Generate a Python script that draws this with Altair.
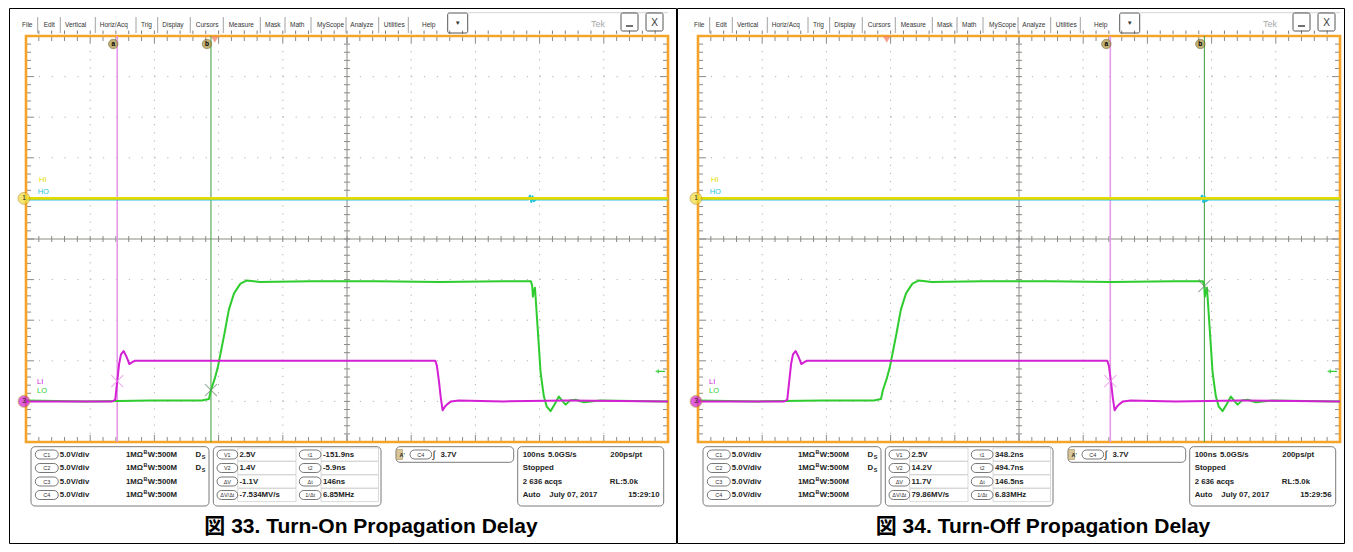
import altair as alt
import pandas as pd

# ---------------- scope settings ----------------
V_PER_DIV = 5.0          # all channels 5.0 V/div
T_LEFT = -294.0          # time at left edge of graticule (ns), 100 ns/div
PX_NS = 0.642            # pixels per ns
PX_DIV = 40.6            # pixels per vertical division
POS_C1 = 1.0             # channel positions (div)
POS_C2 = 0.97
POS_C34 = -4.0
TRIG_LEVEL_V = 3.7

# ---------------- waveform values ----------------
C1_T = [-294, 706]
C1_V = [0.0, 0.0]

C2_T = [-294, 488, 491, 493, 495, 497, 500, 706]
C2_V = [0.0, 0.0, 0.5, -0.3, 0.4, -0.2, 0.0, 0.0]

C3_T = [-294, -200, -160, -155, -152, -149, -146, -142, -138, -133, -129, -125, -115,
        0, 100, 200, 300, 343.5, 346, 349.5, 352, 355, 359, 363, 368, 380, 450, 550, 706]
C3_V = [0.0, 0.0, 0.0, 0.2, 2.4, 4.6, 5.8, 6.2, 5.6, 4.6, 4.8, 5.0, 5.0,
        5.0, 5.0, 5.0, 5.0, 5.0, 4.4, 2.3, 0.5, -1.1, -0.6, -0.3, 0.0, 0.1, 0.0, 0.1, 0.0]

C4_T = [-294, -200, -100, -20, -9, -5.9, 0, 5, 10, 15, 22, 30, 40, 50, 70, 150, 250, 350,
        450, 492.5, 494.5, 495.6, 497, 498.8, 503, 507.6, 512.7, 517, 523, 529, 536, 541,
        546.6, 553, 562, 575, 600, 706]
C4_V = [0.1, 0.0, 0.1, 0.1, 0.3, 1.4, 2.8, 4.3, 6.3, 8.3, 11.3, 13.3, 14.5, 14.9, 14.7, 14.8,
        14.8, 14.7, 14.8, 14.8, 14.2, 12.9, 13.6, 14.0, 9.0, 3.5, 0.6, -0.6, -1.2, -0.4, 0.6,
        0.1, -0.4, 0.1, 0.2, -0.1, 0.1, 0.0]

# ---------------- per-figure values ----------------
CAPTIONS = ["図 33. Turn-On Propagation Delay", "図 34. Turn-Off Propagation Delay"]
CURSOR_T1 = [-151.9, 348.2]
CURSOR_T2 = [-5.9, 494.7]
CURSOR_V1 = [2.5, 2.5]
CURSOR_V2 = [1.4, 14.2]
V_TEXT = [["2.5V", "1.4V", "-1.1V", "-7.534MV/s"], ["2.5V", "14.2V", "11.7V", "79.86MV/s"]]
T_TEXT = [["-151.9ns", "-5.9ns", "146ns", "6.85MHz"], ["348.2ns", "494.7ns", "146.5ns", "6.83MHz"]]
CLOCK = ["15:29:10", "15:29:56"]
PANEL_SHIFT = [0, 4]

V_LABELS = ["V1", "V2", "ΔV", "ΔV/Δt"]
T_LABELS = ["t1", "t2", "Δt", "1/Δt"]
CH_LABELS = ["C1", "C2", "C3", "C4"]
CH_SCALE = ["5.0V/div"] * 4

MENU_ITEMS = ["File", "Edit", "Vertical", "Horiz/Acq", "Trig", "Display", "Cursors", "Measure",
              "Mask", "Math", "MyScope", "Analyze", "Utilities", "Help"]
MENU_X = [21, 42.7, 64, 98.7, 140, 161.3, 194.7, 227.7, 264, 289, 316, 349.3, 382.7, 421]
MENU_SEP = [36.7, 59.3, 94.3, 135, 156.7, 189.3, 222.3, 259.3, 284, 310, 345, 377.7, 407.3]

W, H = 668, 536
FONT = "Liberation Sans, Arial, sans-serif"
ORANGE = "#f5a42a"
YELLOW = "#e2da00"
CYAN = "#22c4e0"
MAGENTA = "#d420d4"
GREEN = "#2ecc2e"
INFO_FS = 7.8


def T(xp):  # screen x (left-figure page px) -> ns
    return T_LEFT + (xp - 25.0) / PX_NS


def D(yp):  # screen y (page px) -> divisions
    return 5.0 - (yp - 36.0) / PX_DIV


def make_panel(i):
    origin = 8 - PANEL_SHIFT[i]
    xs = alt.Scale(domain=[T(origin), T(origin + W)], nice=False, zero=False)
    ys = alt.Scale(domain=[D(8 + H), D(8)], nice=False, zero=False)

    def enc(two=False, **extra):
        e = dict(x=alt.X("x:Q", scale=xs, axis=None), y=alt.Y("y:Q", scale=ys, axis=None))
        if two:
            e["x2"] = alt.X2("x2:Q")
            e["y2"] = alt.Y2("y2:Q")
        e.update(extra)
        return e

    def ch(df):
        return alt.Chart(pd.DataFrame(df))

    layers = []
    T_R = T_LEFT + 1000

    # outer frame
    layers.append(ch([dict(x=T(origin + 0.5), x2=T(origin + W - 0.5), y=D(8.5), y2=D(8 + H - 0.5))])
                  .mark_rect(fillOpacity=0, stroke="#000", strokeWidth=1).encode(**enc(True)))

    # dotted grid
    vg = [dict(x=T_LEFT + 100 * k, x2=T_LEFT + 100 * k, y=-5, y2=5) for k in range(1, 10) if k != 5]
    hg = [dict(x=T_LEFT, x2=T_R, y=k, y2=k) for k in range(-4, 5) if k != 0]
    layers.append(ch(vg).mark_rule(color="#b0b0b0", strokeWidth=1, strokeDash=[1.2, PX_DIV / 5 - 1.2])
                  .encode(**enc(True)))
    layers.append(ch(hg).mark_rule(color="#b0b0b0", strokeWidth=1, strokeDash=[1.2, 100 * PX_NS / 5 - 1.2])
                  .encode(**enc(True)))

    # centre axes and ticks
    ax = [dict(x=T_LEFT, x2=T_R, y=0, y2=0), dict(x=T_LEFT + 500, x2=T_LEFT + 500, y=-5, y2=5)]
    layers.append(ch(ax).mark_rule(color="#8c8c84", strokeWidth=1).encode(**enc(True)))
    ticks = []
    for k in range(1, 50):
        t = T_LEFT + 20 * k
        ticks.append(dict(x=t, x2=t, y=-3 / PX_DIV, y2=3 / PX_DIV))
        ticks.append(dict(x=t, x2=t, y=5, y2=5 - (7 if k % 5 == 0 else 5) / PX_DIV))
        ticks.append(dict(x=t, x2=t, y=-5, y2=-5 + (7 if k % 5 == 0 else 5) / PX_DIV))
    for k in range(1, 50):
        d = -5 + 0.2 * k
        tc = T_LEFT + 500
        ticks.append(dict(x=tc - 3 / PX_NS, x2=tc + 3 / PX_NS, y=d, y2=d))
        ln = (8 if k % 5 == 0 else 5) / PX_NS
        ticks.append(dict(x=T_LEFT, x2=T_LEFT + ln, y=d, y2=d))
        ticks.append(dict(x=T_R - ln, x2=T_R, y=d, y2=d))
    layers.append(ch(ticks).mark_rule(color="#8a8a8a", strokeWidth=1).encode(**enc(True)))
    outer = [dict(x=T_LEFT + 20 * k, x2=T_LEFT + 20 * k, y=D(30.5), y2=D(34)) for k in range(1, 50)]
    layers.append(ch(outer).mark_rule(color="#606060", strokeWidth=0.8).encode(**enc(True)))

    # orange graticule border
    layers.append(ch([dict(x=T_LEFT, x2=T_R, y=-5, y2=5)])
                  .mark_rect(fillOpacity=0, stroke=ORANGE, strokeWidth=2.6).encode(**enc(True)))

    # cursors
    t1, t2 = CURSOR_T1[i], CURSOR_T2[i]
    layers.append(ch([dict(x=t1, x2=t1, y=-5, y2=5)]).mark_rule(color="#e79ae7", strokeWidth=1.6)
                  .encode(**enc(True)))
    layers.append(ch([dict(x=t2, x2=t2, y=-5, y2=5)]).mark_rule(color="#3c9a3c", strokeWidth=1)
                  .encode(**enc(True)))

    # traces
    def trace(ts, vs, pos, color, width):
        df = pd.DataFrame({"x": ts, "y": [pos + v / V_PER_DIV for v in vs]})
        return alt.Chart(df).mark_line(color=color, strokeWidth=width, strokeJoin="round").encode(**enc())

    layers.append(trace(C2_T, C2_V, POS_C2, CYAN, 2.0))
    layers.append(trace(C1_T, C1_V, POS_C1, YELLOW, 2.6))
    layers.append(trace(C4_T, C4_V, POS_C34, GREEN, 2.0))
    layers.append(trace(C3_T, C3_V, POS_C34, MAGENTA, 2.0))

    # cursor crossing marks
    xm = [dict(x=t1, y=POS_C34 + CURSOR_V1[i] / V_PER_DIV, c="#e58ee5"),
          dict(x=t2, y=POS_C34 + CURSOR_V2[i] / V_PER_DIV, c="#6f8a6f")]
    layers.append(ch(xm).mark_point(shape="M-1,-1L1,1M-1,1L1,-1", size=144, filled=False, strokeWidth=1.1)
                  .encode(**enc(color=alt.Color("c:N", scale=None))))

    # cursor labels a / b
    cl = [dict(x=t1 - 4 / PX_NS, y=D(44), s="a"), dict(x=t2 - 4 / PX_NS, y=D(44), s="b")]
    layers.append(ch(cl).mark_point(shape="circle", filled=True, size=90, color="#a8903c",
                                    stroke="#6a5a20", strokeWidth=0.8).encode(**enc()))
    layers.append(ch(cl).mark_text(fontSize=6.5, fontWeight="bold", color="#000", font=FONT)
                  .encode(**enc(text="s:N")))

    # trigger position and level markers
    layers.append(ch([dict(x=0, y=D(39.5))]).mark_point(shape="triangle-down", filled=True, size=60,
                                                        color="#f07a5e").encode(**enc()))
    tl = POS_C34 + TRIG_LEVEL_V / V_PER_DIV
    layers.append(ch([dict(x=T(656), y=tl)]).mark_point(shape="triangle-left", filled=True, size=22,
                                                        color=GREEN).encode(**enc()))
    layers.append(ch([dict(x=T(657), x2=T(664), y=tl, y2=tl)]).mark_rule(color=GREEN, strokeWidth=1.2)
                  .encode(**enc(True)))

    # channel markers and labels
    cm = [dict(x=T(23), y=POS_C1, f="#f2dc3a", s="1"), dict(x=T(23), y=POS_C34, f="#d21fd2", s="3")]
    layers.append(ch(cm).mark_point(shape="circle", filled=True, size=140, stroke="#b08a20", strokeWidth=0.8)
                  .encode(**enc(color=alt.Color("f:N", scale=None))))
    layers.append(ch(cm).mark_text(fontSize=6.5, color="#222", font=FONT).encode(**enc(text="s:N")))
    lab = [dict(x=T(38), y=D(180), s="HI", c=YELLOW), dict(x=T(36.7), y=D(192.3), s="HO", c=CYAN),
           dict(x=T(36), y=D(382), s="LI", c=MAGENTA), dict(x=T(36), y=D(391), s="LO", c=GREEN)]
    layers.append(ch(lab).mark_text(fontSize=7.5, align="left", font=FONT)
                  .encode(**enc(text="s:N", color=alt.Color("c:N", scale=None))))

    # menu bar
    mt = [dict(x=T(x), y=D(25), s=s) for x, s in zip(MENU_X, MENU_ITEMS)]
    layers.append(ch(mt).mark_text(fontSize=6.5, align="left", color="#333", font=FONT)
                  .encode(**enc(text="s:N")))
    ms = [dict(x=T(x), x2=T(x), y=D(17), y2=D(33)) for x in MENU_SEP]
    layers.append(ch(ms).mark_rule(color="#8a8a8a", strokeWidth=0.8).encode(**enc(True)))
    layers.append(ch([dict(x=T(467), x2=T(667), y=D(12.7), y2=D(12.7))])
                  .mark_rule(color="#c8c8c8", strokeWidth=0.8).encode(**enc(True)))
    btn = [dict(x=T(446.7), x2=T(466.7), y=D(13), y2=D(33)),
           dict(x=T(620), x2=T(637), y=D(13), y2=D(31)),
           dict(x=T(645), x2=T(662), y=D(13), y2=D(31))]
    layers.append(ch(btn).mark_rect(fillOpacity=0, stroke="#444", strokeWidth=0.9, cornerRadius=1.5)
                  .encode(**enc(True)))
    layers.append(ch([dict(x=T(456.7), y=D(23), s="▼")]).mark_text(fontSize=6, color="#333", font=FONT)
                  .encode(**enc(text="s:N")))
    layers.append(ch([dict(x=T(625), x2=T(632), y=D(26), y2=D(26))]).mark_rule(color="#333", strokeWidth=1.4)
                  .encode(**enc(True)))
    layers.append(ch([dict(x=T(653.5), y=D(22.5), s="X")]).mark_text(fontSize=10, color="#333", font=FONT)
                  .encode(**enc(text="s:N")))
    layers.append(ch([dict(x=T(590), y=D(24), s="Tek")]).mark_text(fontSize=9, align="left", color="#a8a8a8",
                                                                 font=FONT).encode(**enc(text="s:N")))

    # info boxes
    boxes = [dict(x=T(30), x2=T(208), y=D(446.7), y2=D(506)),
             dict(x=T(212.3), x2=T(380), y=D(446.7), y2=D(506)),
             dict(x=T(395), x2=T(512.7), y=D(446.7), y2=D(462.3)),
             dict(x=T(516.7), x2=T(662.7), y=D(446.7), y2=D(506))]
    layers.append(ch(boxes).mark_rect(fillOpacity=0, stroke="#7a7a7a", strokeWidth=1, cornerRadius=4)
                  .encode(**enc(True)))
    R = [454.5, 468, 481.5, 495]
    cells = []
    for r in R:
        cells.append(dict(x=T(236.7), x2=T(295), y=D(r - 6.6), y2=D(r + 6.6)))
        cells.append(dict(x=T(320), x2=T(377.5), y=D(r - 6.6), y2=D(r + 6.6)))
    layers.append(ch(cells).mark_rect(fillOpacity=0, stroke="#d0d0d0", strokeWidth=0.8).encode(**enc(True)))

    pills, plab = [], []
    for r, s in zip(R, CH_LABELS):
        pills.append(dict(x=T(34.3), x2=T(57.3), y=D(r - 4.5), y2=D(r + 4.5)))
        plab.append(dict(x=T(45.8), y=D(r), s=s))
    for r, s in zip(R, V_LABELS):
        pills.append(dict(x=T(216), x2=T(236.7), y=D(r - 4.5), y2=D(r + 4.5)))
        plab.append(dict(x=T(226.3), y=D(r), s=s))
    for r, s in zip(R, T_LABELS):
        pills.append(dict(x=T(298.3), x2=T(320), y=D(r - 4.5), y2=D(r + 4.5)))
        plab.append(dict(x=T(309.2), y=D(r), s=s))
    pills.append(dict(x=T(409), x2=T(430.7), y=D(450), y2=D(459)))
    plab.append(dict(x=T(419.8), y=D(454.5), s="C4"))
    layers.append(ch([dict(x=T(395.5), x2=T(401.5), y=D(449.5), y2=D(459.5))])
                  .mark_rect(fill="#d8c69c", stroke="#a89060", strokeWidth=0.6).encode(**enc(True)))
    layers.append(ch(pills).mark_rect(fill="#ffffff", stroke="#555", strokeWidth=0.8, cornerRadius=4.5)
                  .encode(**enc(True)))
    layers.append(ch(plab).mark_text(fontSize=5.5, color="#333", font=FONT).encode(**enc(text="s:N")))

    bold = []
    for r, s in zip(R, CH_SCALE):
        bold.append(dict(x=T(58.8), y=D(r), s=s))
        bold.append(dict(x=T(125), y=D(r), s="1MΩ"))
        bold.append(dict(x=T(146.8), y=D(r), s="W:500M"))
    for r in R[:2]:
        bold.append(dict(x=T(194.5), y=D(r), s="D"))
    for r, s in zip(R, V_TEXT[i]):
        bold.append(dict(x=T(238.5), y=D(r), s=s))
    for r, s in zip(R, T_TEXT[i]):
        bold.append(dict(x=T(322), y=D(r), s=s))
    bold += [dict(x=T(439.5), y=D(454.5), s="3.7V"),
             dict(x=T(521.7), y=D(R[0]), s="100ns"), dict(x=T(547), y=D(R[0]), s="5.0GS/s"),
             dict(x=T(521.7), y=D(R[1]), s="Stopped"),
             dict(x=T(521.7), y=D(R[2]), s="2 636 acqs"),
             dict(x=T(521.7), y=D(R[3]), s="Auto"), dict(x=T(548.3), y=D(R[3]), s="July 07, 2017")]
    layers.append(ch(bold).mark_text(fontSize=INFO_FS, fontWeight="bold", align="left", color="#222", font=FONT)
                  .encode(**enc(text="s:N")))
    right = [dict(x=T(641), y=D(R[0]), s="200ps/pt"), dict(x=T(637), y=D(R[2]), s="RL:5.0k"),
             dict(x=T(658.5), y=D(R[3]), s=CLOCK[i])]
    layers.append(ch(right).mark_text(fontSize=INFO_FS, fontWeight="bold", align="right", color="#222", font=FONT)
                  .encode(**enc(text="s:N")))
    small = [dict(x=T(142.6), y=D(r - 2.8), s="B") for r in R] + \
            [dict(x=T(200.8), y=D(r + 2.4), s="S") for r in R[:2]] + \
            [dict(x=T(398.5), y=D(454.5), s="A'")]
    layers.append(ch(small).mark_text(fontSize=5.4, fontWeight="bold", align="left", color="#222", font=FONT)
                  .encode(**enc(text="s:N")))
    layers.append(ch([dict(x=T(431.5), y=D(454.5), s="∫")]).mark_text(fontSize=10, align="left", color="#222",
                                                                    font=FONT).encode(**enc(text="s:N")))

    # caption
    layers.append(ch([dict(x=T(370), y=D(532.7), s=CAPTIONS[i])])
                  .mark_text(fontSize=21, fontWeight="bold", baseline="alphabetic", color="#000",
                             font="Liberation Sans, Noto Sans CJK JP, sans-serif")
                  .encode(**enc(text="s:N")))

    return alt.layer(*layers).properties(width=W, height=H)


chart = alt.hconcat(make_panel(0), make_panel(1), spacing=0, bounds="flush") \
    .configure_view(stroke=None).properties(padding=0)

chart.save("out.html", embed_options={"renderer": "svg", "actions": False})
